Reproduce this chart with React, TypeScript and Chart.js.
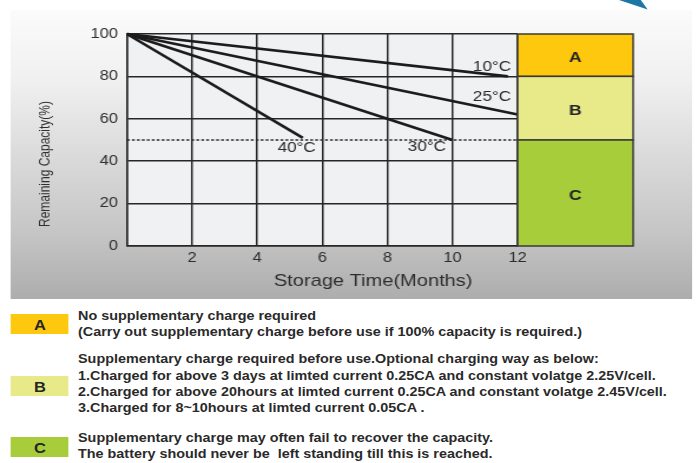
import React, { useEffect, useRef } from "react";
import { Chart, registerables } from "chart.js";

Chart.register(...registerables);

// ---------- data ----------
const seriesNames = ["10°C", "25°C", "30°C", "40°C"];
const months10 = [0, 11.7];
const capacity10 = [100, 80];
const months25 = [0, 12];
const capacity25 = [100, 62];
const months30 = [0, 10];
const capacity30 = [100, 50];
const months40 = [0, 5.4];
const capacity40 = [100, 51];
const labelAtMonth = [11.8, 11.8, 9.8, 5.8];
const labelAtCapacity = [84.4, 70.3, 46.6, 46.1];

const thresholdMonths = [0, 12];
const thresholdCapacity = [50, 50];

const xTickStep = 2;
const yTickStep = 20;
const xMax = 12;
const yMax = 100;

const zoneNames = ["A", "B", "C"];
const zoneTop = [100, 80, 50];
const zoneBottom = [80, 50, 0];
const zoneColors = ["#fec80e", "#e8ea8a", "#a7cd3a"];

const xTitle = "Storage Time(Months)";
const yTitle = "Remaining Capacity(%)";

const legendA = [
  "No supplementary charge required",
  "(Carry out supplementary charge before use if 100% capacity is required.)",
];
const legendB = [
  "Supplementary charge required before use.Optional charging way as below:",
  "1.Charged for above 3 days at limted current 0.25CA and constant volatge 2.25V/cell.",
  "2.Charged for above 20hours at limted current 0.25CA and constant volatge 2.45V/cell.",
  "3.Charged for 8~10hours at limted current 0.05CA .",
];
const legendC = [
  "Supplementary charge may often fail to recover the capacity.",
  "The battery should never be  left standing till this is reached.",
];

// ---------- layout ----------
const SX = 698 / 592; // horizontal stretch of the original artwork
const W = 592;
const FONT = "'Liberation Sans', Arial, Helvetica, sans-serif";

const pts = (xs: number[], ys: number[]) => xs.map((x, i) => ({ x, y: ys[i] }));

export default function App() {
  const ref = useRef<HTMLCanvasElement | null>(null);

  useEffect(() => {
    const canvas = ref.current;
    if (!canvas) return;
    const lineColor = "#1c1c1c";
    const series = [
      pts(months10, capacity10),
      pts(months25, capacity25),
      pts(months30, capacity30),
      pts(months40, capacity40),
    ];

    const decor = {
      id: "decor",
      beforeDraw(chart: any) {
        const { ctx, chartArea: a } = chart;
        ctx.save();
        ctx.fillStyle = "#f0f1f3";
        ctx.fillRect(a.left, a.top, a.right - a.left, a.bottom - a.top);
        ctx.restore();
      },
      afterDatasetsDraw(chart: any) {
        const { ctx, chartArea: a, scales } = chart;
        const y = scales.y;
        const x = scales.x;
        ctx.save();
        // zone boxes
        const boxW = 98;
        zoneNames.forEach((n, i) => {
          const t = y.getPixelForValue(zoneTop[i]);
          const b = y.getPixelForValue(zoneBottom[i]);
          ctx.fillStyle = zoneColors[i];
          ctx.fillRect(a.right, t, boxW, b - t);
          ctx.strokeStyle = "#3a3a3a";
          ctx.lineWidth = 1.5;
          ctx.strokeRect(a.right, t, boxW, b - t);
          ctx.fillStyle = "#262626";
          ctx.font = `bold 15px ${FONT}`;
          ctx.textAlign = "center";
          ctx.textBaseline = "middle";
          ctx.fillText(n, a.right + boxW / 2, (t + b) / 2 + 2.5);
        });
        // temperature labels
        ctx.fillStyle = "#2a2a2a";
        ctx.font = `14.5px ${FONT}`;
        ctx.textAlign = "right";
        ctx.textBaseline = "middle";
        seriesNames.forEach((s, i) => {
          ctx.fillText(s, x.getPixelForValue(labelAtMonth[i]), y.getPixelForValue(labelAtCapacity[i]));
        });
        // axis titles
        ctx.fillStyle = "#2e2e2e";
        ctx.textAlign = "center";
        ctx.font = `17px ${FONT}`;
        ctx.fillText(xTitle, 316.5, 281);
        ctx.translate(38.2, 164);
        ctx.rotate(-Math.PI / 2);
        ctx.font = `12px ${FONT}`;
        ctx.fillText(yTitle, 0, 0);
        ctx.restore();
      },
    };

    const chart = new Chart(canvas, {
      type: "scatter",
      data: {
        datasets: [
          ...series.map((d, i) => ({
            label: seriesNames[i],
            data: d,
            showLine: true,
            borderColor: lineColor,
            backgroundColor: lineColor,
            borderWidth: 2.6,
            pointRadius: 0,
            clip: false as any,
          })),
          {
            label: "threshold",
            data: pts(thresholdMonths, thresholdCapacity),
            showLine: true,
            borderColor: "#2a2a2a",
            borderWidth: 1.3,
            borderDash: [2.4, 1.8],
            pointRadius: 0,
          },
        ],
      },
      options: {
        responsive: false,
        animation: false,
        devicePixelRatio: 1,
        events: [],
        layout: { padding: { left: 0, top: 34, right: W - 439, bottom: 0 } },
        plugins: { legend: { display: false }, tooltip: { enabled: false } },
        scales: {
          x: {
            type: "linear",
            min: 0,
            max: xMax,
            afterFit: (s: any) => {
              s.height = 54;
            },
            ticks: {
              stepSize: xTickStep,
              padding: 3.5,
              color: "#2e2e2e",
              font: { family: FONT, size: 14 },
              callback: (v: any) => (v === 0 ? "" : String(v)),
              maxRotation: 0,
            },
            grid: { color: "#262626", lineWidth: 1.5, drawTicks: false },
            border: { color: "#262626", width: 1.5 },
          },
          y: {
            min: 0,
            max: yMax,
            afterFit: (s: any) => {
              s.width = 107.7;
            },
            ticks: {
              stepSize: yTickStep,
              padding: 7.6,
              color: "#2e2e2e",
              font: { family: FONT, size: 14 },
            },
            grid: { color: "#262626", lineWidth: 1.5, drawTicks: false },
            border: { color: "#262626", width: 1.5 },
          },
        },
      },
      plugins: [decor],
    });
    return () => chart.destroy();
  }, []);

  const textStyle = (top: number): React.CSSProperties => ({
    position: "absolute",
    left: 66.2,
    top: top - 8,
    height: 16,
    lineHeight: "16px",
    whiteSpace: "pre",
    fontFamily: FONT,
    fontWeight: "bold",
    fontSize: 12.2,
    color: "#2a2a2a",
  });
  const swatch = (top: number, color: string, letter: string) => (
    <div
      style={{
        position: "absolute",
        left: 9.3,
        top,
        width: 49.2,
        height: 20,
        background: color,
        fontFamily: FONT,
        fontWeight: "bold",
        fontSize: 14,
        lineHeight: "22px",
        textAlign: "center",
        color: "#262626",
      }}
    >
      {letter}
    </div>
  );

  const aTops = [315.5, 331.5];
  const bTops = [358.5, 376, 392, 407.5];
  const cTops = [437.5, 454];

  return (
    <div
      style={{
        position: "absolute",
        left: 0,
        top: 0,
        width: W,
        height: 463,
        overflow: "hidden",
        transform: `scaleX(${SX})`,
        transformOrigin: "0 0",
        background: "#ffffff",
      }}
    >
      <div
        style={{
          position: "absolute",
          left: 9.3,
          top: 10,
          width: 578,
          height: 289,
          background:
            "linear-gradient(to bottom, #fbfbfb 0px, #f0f0f0 70px, #dcdcdc 140px, #c6c6c6 220px, #adadad 289px)",
        }}
      />
      <svg
        style={{ position: "absolute", left: 0, top: 0 }}
        width={W}
        height={20}
      >
        <polygon points="525,0 543.5,0 549.3,9.5" fill="#1b77a6" />
      </svg>
      <canvas
        ref={ref}
        width={W}
        height={300}
        style={{ position: "absolute", left: 0, top: 0, width: W, height: 300 }}
      />
      {swatch(314, zoneColors[0], zoneNames[0])}
      {swatch(376, zoneColors[1], zoneNames[1])}
      {swatch(437, zoneColors[2], zoneNames[2])}
      {legendA.map((t, i) => (
        <div key={"a" + i} style={textStyle(aTops[i])}>{t}</div>
      ))}
      {legendB.map((t, i) => (
        <div key={"b" + i} style={textStyle(bTops[i])}>{t}</div>
      ))}
      {legendC.map((t, i) => (
        <div key={"c" + i} style={textStyle(cTops[i])}>{t}</div>
      ))}
    </div>
  );
}
